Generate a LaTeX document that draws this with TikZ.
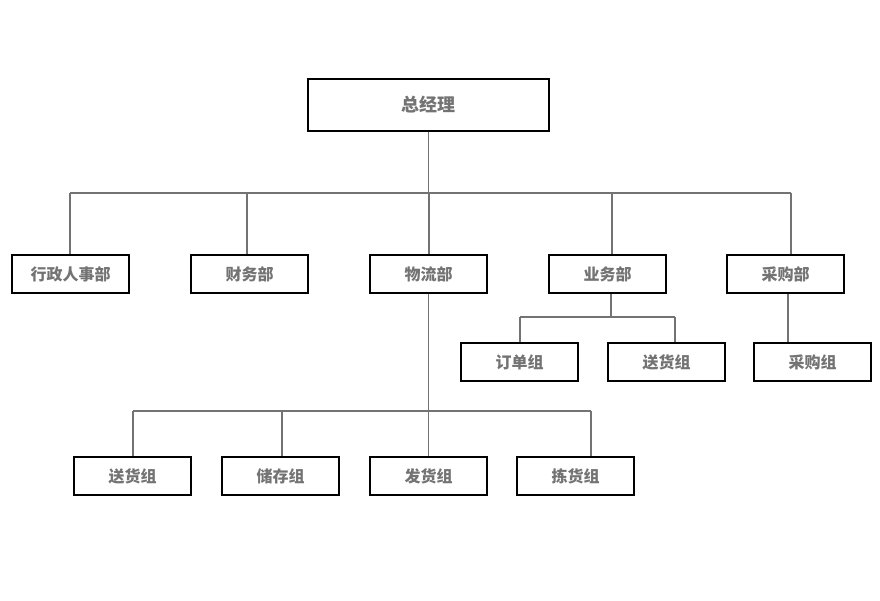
\documentclass[tikz,border=0pt]{standalone}
\usepackage{fontspec}
\setmainfont{Noto Sans CJK SC}
\begin{document}
\begin{tikzpicture}[x=1pt,y=-1pt,
  box/.style={draw=black,line width=1.3pt,minimum width=117pt,minimum height=38pt,inner sep=0pt,text=black!55,font=\fontsize{16}{18}\selectfont\bfseries},
  big/.style={box,minimum width=241pt,minimum height=52pt,font=\fontsize{18}{20}\selectfont\bfseries},
  ln/.style={draw=black!55,line width=1.3pt}]
\useasboundingbox (0,0) rectangle (880,600);
\node[big] (gm) at (428.5,105) {总经理};
\node[box] (a) at (70.5,274) {行政人事部};
\node[box] (b) at (249.5,274) {财务部};
\node[box] (c) at (428.5,274) {物流部};
\node[box] (d) at (607.5,274) {业务部};
\node[box] (e) at (785.5,274) {采购部};
\node[box] (d1) at (519.5,362) {订单组};
\node[box] (d2) at (666.5,362) {送货组};
\node[box] (e1) at (812.5,362) {采购组};
\node[box] (c1) at (132.5,476) {送货组};
\node[box] (c2) at (280.5,476) {储存组};
\node[box] (c3) at (428.5,476) {发货组};
\node[box] (c4) at (575.5,476) {拣货组};
\coordinate (b1L) at (70,193); \coordinate (b1R) at (791,193);
\coordinate (b2L) at (520,317); \coordinate (b2R) at (675,317);
\coordinate (b3L) at (133,411); \coordinate (b3R) at (591,411);
\draw[ln] (b1L) -- (b1R);
\draw[ln] (gm.south) -- (gm.south |- b1L);
\foreach \n/\x in {a/70,b/247,c/429,d/612,e/791}{
  \draw[ln] (\n.north -| \x,0) -- (\x,193);}
\draw[ln] (b2L) -- (b2R);
\draw[ln] (d.south -| 611,0) -- (611,317);
\draw[ln] (d1.north -| 520,0) -- (b2L);
\draw[ln] (d2.north -| 675,0) -- (b2R);
\draw[ln] (e.south -| 788,0) -- (e1.north -| 788,0);
\draw[ln] (b3L) -- (b3R);
\draw[ln] (c.south) -- (c3.north);
\draw[ln] (c1.north -| 133,0) -- (b3L);
\draw[ln] (c2.north -| 282,0) -- (282,411);
\draw[ln] (c4.north -| 591,0) -- (b3R);
\end{tikzpicture}
\end{document}
